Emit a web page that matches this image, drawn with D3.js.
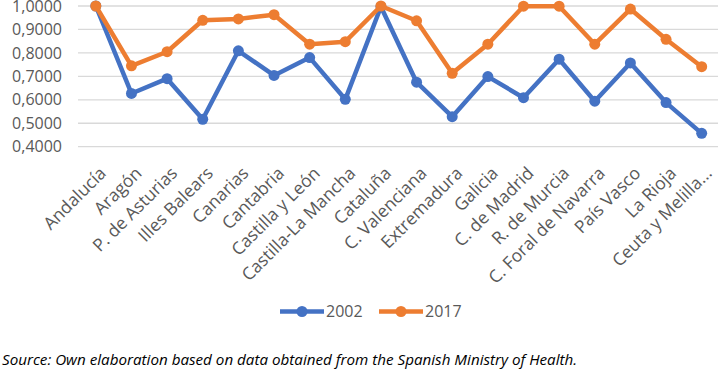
<!DOCTYPE html>
<html><head><meta charset="utf-8">
<script src="https://cdn.jsdelivr.net/npm/d3@7"></script>
<style>
body{margin:0;background:#fff;}
svg{display:block;}
</style></head>
<body>
<svg id="chart" width="720" height="371"></svg>
<script>
const categories = ["Andalucía","Aragón","P. de Asturias","Illes Balears","Canarias","Cantabria","Castilla y León","Castilla-La Mancha","Cataluña","C. Valenciana","Extremadura","Galicia","C. de Madrid","R. de Murcia","C. Foral de Navarra","País Vasco","La Rioja","Ceuta y Melilla..."];
const values2002 = [1.0000,0.6270,0.6900,0.5170,0.8090,0.7040,0.7800,0.6020,0.9970,0.6750,0.5280,0.6990,0.6090,0.7730,0.5940,0.7570,0.5880,0.4570];
const values2017 = [1.0000,0.7450,0.8050,0.9390,0.9450,0.9630,0.8370,0.8480,1.0000,0.9370,0.7130,0.8370,0.9990,0.9990,0.8370,0.9870,0.8580,0.7410];
const seriesNames = ["2002","2017"];
const seriesColors = ["#4472C4","#ED7D31"];
const yTicks = [0.4,0.5,0.6,0.7,0.8,0.9,1.0];
const sourceText = "Source: Own elaboration based on data obtained from the Spanish Ministry of Health.";

const svg = d3.select("#chart");
const font = "'Open Sans', sans-serif";
const x = d3.scaleBand().domain(categories).range([78, 719.5]).padding(0);
const y = d3.scaleLinear().domain([0.4, 1.0]).range([146.7, 6]);
const fmt = v => d3.format(".4f")(v).replace(".", ",");

// gridlines
svg.append("g").selectAll("line").data(yTicks).join("line")
  .attr("x1", 78).attr("x2", 718)
  .attr("y1", d => y(d)).attr("y2", d => y(d))
  .attr("stroke", "#D9D9D9").attr("stroke-width", 1.3);

// y labels
svg.append("g").selectAll("text").data(yTicks).join("text")
  .attr("x", 62).attr("y", d => y(d)).attr("dy", "0.35em")
  .attr("text-anchor", "end")
  .attr("font-family", font).attr("font-size", 16).attr("fill", "#595959")
  .text(fmt);

// x labels
svg.append("g").selectAll("text").data(categories).join("text")
  .attr("transform", d => `translate(${x(d) + x.bandwidth()/2 + 7},${170}) rotate(-45)`)
  .attr("text-anchor", "end")
  .attr("dy", "0.35em")
  .attr("font-family", font).attr("font-size", 17.5).attr("fill", "#595959")
  .text(d => d);

const line = d3.line().x((d,i) => x(categories[i]) + x.bandwidth()/2).y(d => y(d));
[values2002, values2017].forEach((vals, s) => {
  const g = svg.append("g");
  g.append("path").datum(vals).attr("d", line)
    .attr("fill", "none").attr("stroke", seriesColors[s]).attr("stroke-width", 4.5)
    .attr("stroke-linejoin", "round");
  g.selectAll("circle").data(vals).join("circle")
    .attr("cx", (d,i) => x(categories[i]) + x.bandwidth()/2)
    .attr("cy", d => y(d)).attr("r", 5.5)
    .attr("fill", seriesColors[s]);
});

// legend
const legendX = [280, 379];
seriesNames.forEach((name, s) => {
  const lx = legendX[s], ly = 311.5;
  svg.append("line").attr("x1", lx).attr("x2", lx + 44).attr("y1", ly).attr("y2", ly)
    .attr("stroke", seriesColors[s]).attr("stroke-width", 4.5);
  svg.append("circle").attr("cx", lx + 22).attr("cy", ly).attr("r", 5.5).attr("fill", seriesColors[s]);
  svg.append("text").attr("x", lx + 46).attr("y", ly).attr("dy", "0.35em")
    .attr("font-family", font).attr("font-size", 16).attr("fill", "#595959").text(name);
});

svg.append("text").attr("x", 2).attr("y", 365)
  .attr("font-family", font).attr("font-style", "italic").attr("font-size", 15.2)
  .attr("fill", "#000").text(sourceText);
</script>
</body></html>
